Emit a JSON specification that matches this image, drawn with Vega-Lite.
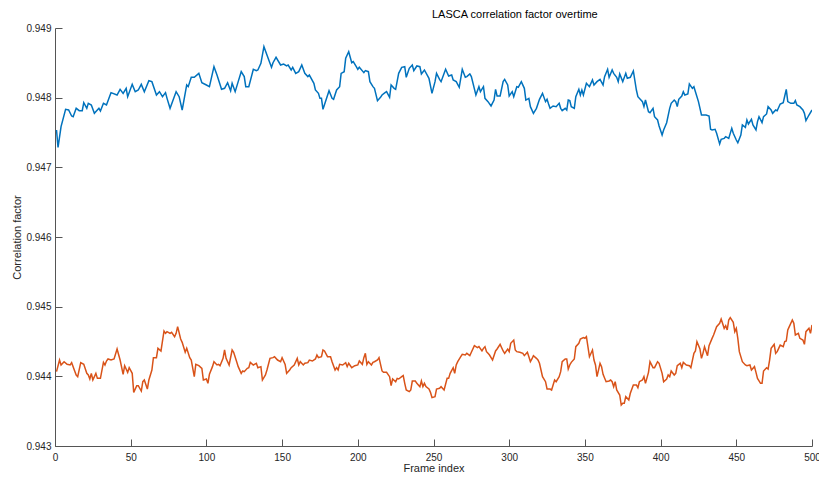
{
"$schema": "https://vega.github.io/schema/vega-lite/v6.json",
"width": 757, "height": 418,
"autosize": {"type": "none"},
"padding": {"left": 55, "top": 28, "right": 7, "bottom": 31},
"background": "white",
"title": {"text": "LASCA correlation factor overtime", "font": "Liberation Sans", "fontSize": 11, "fontWeight": "normal", "color": "#000000", "anchor": "start", "frame": "group", "dx": 377, "offset": 3},
"config": {
  "view": {"stroke": null},
  "axis": {"grid": false, "domainColor": "#555555", "domainWidth": 1, "tickColor": "#555555", "tickWidth": 1, "tickSize": -7, "labelFont": "Liberation Sans", "labelFontSize": 10, "labelColor": "#262626", "titleFont": "Liberation Sans", "titleFontSize": 11, "titleFontWeight": "normal", "titleColor": "#262626", "labelOverlap": false, "labelFlush": false}
},
"datasets": {
"blue": [
{"frame":1,"value":0.947536},{"frame":2,"value":0.947287},{"frame":4,"value":0.947584},{"frame":7,"value":0.947833},{"frame":9,"value":0.947823},{"frame":11,"value":0.947737},{"frame":12,"value":0.947727},{"frame":14,"value":0.947847},{"frame":16,"value":0.947813},{"frame":18,"value":0.947813},{"frame":19,"value":0.947928},{"frame":21,"value":0.947847},{"frame":22,"value":0.947919},{"frame":24,"value":0.947895},{"frame":26,"value":0.947775},{"frame":29,"value":0.947847},{"frame":30,"value":0.947809},{"frame":32,"value":0.947919},{"frame":34,"value":0.947895},{"frame":36,"value":0.948014},{"frame":37,"value":0.948072},{"frame":41,"value":0.948038},{"frame":43,"value":0.94812},{"frame":45,"value":0.948062},{"frame":47,"value":0.948134},{"frame":48,"value":0.948014},{"frame":51,"value":0.948191},{"frame":53,"value":0.948086},{"frame":55,"value":0.94811},{"frame":57,"value":0.948191},{"frame":59,"value":0.948086},{"frame":62,"value":0.948244},{"frame":64,"value":0.94823},{"frame":67,"value":0.948038},{"frame":69,"value":0.948086},{"frame":71,"value":0.948014},{"frame":73,"value":0.948072},{"frame":74,"value":0.94799},{"frame":76,"value":0.947847},{"frame":78,"value":0.947966},{"frame":80,"value":0.948086},{"frame":82,"value":0.948014},{"frame":84,"value":0.947823},{"frame":87,"value":0.948182},{"frame":88,"value":0.948158},{"frame":90,"value":0.948292},{"frame":92,"value":0.948292},{"frame":95,"value":0.948349},{"frame":97,"value":0.948215},{"frame":100,"value":0.948182},{"frame":102,"value":0.948158},{"frame":105,"value":0.948445},{"frame":107,"value":0.948325},{"frame":110,"value":0.94812},{"frame":112,"value":0.948134},{"frame":114,"value":0.948215},{"frame":116,"value":0.9481},{"frame":117,"value":0.948206},{"frame":119,"value":0.948086},{"frame":121,"value":0.94823},{"frame":123,"value":0.948373},{"frame":125,"value":0.948302},{"frame":126,"value":0.948158},{"frame":128,"value":0.948158},{"frame":131,"value":0.948407},{"frame":133,"value":0.948388},{"frame":134,"value":0.948397},{"frame":136,"value":0.948493},{"frame":138,"value":0.948732},{"frame":140,"value":0.948613},{"frame":142,"value":0.948493},{"frame":143,"value":0.948436},{"frame":144,"value":0.948502},{"frame":146,"value":0.948579},{"frame":149,"value":0.948469},{"frame":151,"value":0.948483},{"frame":153,"value":0.948455},{"frame":154,"value":0.948469},{"frame":156,"value":0.948397},{"frame":157,"value":0.948436},{"frame":159,"value":0.948349},{"frame":161,"value":0.948373},{"frame":163,"value":0.948469},{"frame":165,"value":0.948349},{"frame":167,"value":0.948302},{"frame":168,"value":0.948325},{"frame":171,"value":0.948206},{"frame":172,"value":0.94811},{"frame":174,"value":0.948062},{"frame":175,"value":0.94799},{"frame":176,"value":0.94799},{"frame":177,"value":0.947833},{"frame":179,"value":0.947966},{"frame":181,"value":0.9481},{"frame":183,"value":0.94799},{"frame":184,"value":0.947976},{"frame":186,"value":0.94811},{"frame":188,"value":0.948158},{"frame":189,"value":0.948349},{"frame":191,"value":0.948373},{"frame":192,"value":0.948565},{"frame":194,"value":0.94866},{"frame":196,"value":0.948502},{"frame":197,"value":0.948517},{"frame":199,"value":0.948445},{"frame":200,"value":0.948407},{"frame":201,"value":0.948436},{"frame":204,"value":0.948359},{"frame":205,"value":0.948388},{"frame":207,"value":0.948373},{"frame":208,"value":0.94823},{"frame":210,"value":0.948158},{"frame":211,"value":0.948134},{"frame":213,"value":0.947957},{"frame":215,"value":0.948005},{"frame":216,"value":0.948038},{"frame":218,"value":0.948072},{"frame":219,"value":0.948086},{"frame":221,"value":0.948005},{"frame":222,"value":0.948182},{"frame":224,"value":0.948134},{"frame":225,"value":0.94812},{"frame":227,"value":0.948349},{"frame":229,"value":0.948436},{"frame":231,"value":0.948445},{"frame":232,"value":0.948292},{"frame":234,"value":0.948421},{"frame":236,"value":0.948469},{"frame":237,"value":0.948388},{"frame":239,"value":0.948455},{"frame":241,"value":0.948445},{"frame":242,"value":0.94834},{"frame":244,"value":0.948397},{"frame":247,"value":0.948278},{"frame":249,"value":0.948062},{"frame":251,"value":0.94823},{"frame":252,"value":0.948349},{"frame":254,"value":0.948263},{"frame":255,"value":0.94823},{"frame":258,"value":0.948407},{"frame":260,"value":0.948311},{"frame":262,"value":0.948325},{"frame":263,"value":0.948254},{"frame":265,"value":0.94823},{"frame":267,"value":0.948149},{"frame":269,"value":0.948407},{"frame":271,"value":0.948292},{"frame":272,"value":0.948302},{"frame":274,"value":0.94834},{"frame":275,"value":0.948302},{"frame":278,"value":0.948038},{"frame":280,"value":0.948158},{"frame":281,"value":0.948086},{"frame":283,"value":0.948158},{"frame":284,"value":0.94799},{"frame":286,"value":0.947943},{"frame":288,"value":0.947881},{"frame":290,"value":0.947966},{"frame":291,"value":0.94812},{"frame":292,"value":0.948024},{"frame":294,"value":0.948024},{"frame":296,"value":0.94823},{"frame":297,"value":0.948263},{"frame":299,"value":0.948182},{"frame":300,"value":0.948024},{"frame":302,"value":0.948086},{"frame":303,"value":0.948014},{"frame":305,"value":0.948158},{"frame":306,"value":0.948149},{"frame":308,"value":0.94823},{"frame":310,"value":0.948134},{"frame":311,"value":0.947966},{"frame":313,"value":0.94799},{"frame":314,"value":0.947871},{"frame":316,"value":0.947775},{"frame":318,"value":0.947847},{"frame":320,"value":0.947976},{"frame":322,"value":0.948062},{"frame":324,"value":0.947943},{"frame":325,"value":0.947976},{"frame":326,"value":0.947909},{"frame":327,"value":0.947847},{"frame":329,"value":0.947881},{"frame":331,"value":0.947871},{"frame":333,"value":0.947919},{"frame":334,"value":0.947847},{"frame":335,"value":0.947813},{"frame":337,"value":0.947847},{"frame":338,"value":0.947823},{"frame":339,"value":0.947966},{"frame":340,"value":0.947957},{"frame":341,"value":0.947871},{"frame":343,"value":0.947847},{"frame":344,"value":0.948014},{"frame":346,"value":0.94812},{"frame":347,"value":0.948038},{"frame":348,"value":0.94811},{"frame":349,"value":0.948038},{"frame":351,"value":0.948206},{"frame":353,"value":0.948158},{"frame":355,"value":0.948254},{"frame":356,"value":0.948182},{"frame":358,"value":0.94823},{"frame":360,"value":0.948263},{"frame":362,"value":0.948182},{"frame":363,"value":0.948302},{"frame":365,"value":0.948407},{"frame":366,"value":0.948292},{"frame":368,"value":0.948397},{"frame":369,"value":0.948349},{"frame":371,"value":0.948292},{"frame":372,"value":0.94823},{"frame":373,"value":0.94834},{"frame":375,"value":0.94823},{"frame":377,"value":0.948349},{"frame":378,"value":0.948278},{"frame":380,"value":0.948292},{"frame":382,"value":0.948383},{"frame":384,"value":0.94811},{"frame":385,"value":0.948014},{"frame":387,"value":0.947966},{"frame":388,"value":0.947943},{"frame":389,"value":0.947871},{"frame":390,"value":0.947966},{"frame":392,"value":0.947799},{"frame":393,"value":0.947785},{"frame":395,"value":0.947847},{"frame":396,"value":0.947727},{"frame":398,"value":0.94768},{"frame":399,"value":0.947593},{"frame":401,"value":0.947464},{"frame":402,"value":0.947536},{"frame":404,"value":0.947641},{"frame":406,"value":0.947847},{"frame":407,"value":0.947919},{"frame":409,"value":0.947966},{"frame":410,"value":0.947943},{"frame":411,"value":0.947871},{"frame":412,"value":0.947976},{"frame":414,"value":0.948024},{"frame":415,"value":0.948086},{"frame":416,"value":0.948038},{"frame":418,"value":0.948053},{"frame":419,"value":0.948196},{"frame":421,"value":0.948134},{"frame":422,"value":0.948158},{"frame":423,"value":0.948086},{"frame":425,"value":0.947943},{"frame":427,"value":0.947751},{"frame":428,"value":0.947751},{"frame":430,"value":0.947751},{"frame":432,"value":0.947737},{"frame":433,"value":0.947546},{"frame":434,"value":0.947536},{"frame":436,"value":0.947546},{"frame":437,"value":0.947488},{"frame":439,"value":0.947335},{"frame":440,"value":0.947402},{"frame":442,"value":0.947416},{"frame":443,"value":0.94744},{"frame":445,"value":0.947416},{"frame":447,"value":0.94756},{"frame":448,"value":0.947488},{"frame":450,"value":0.947392},{"frame":451,"value":0.947354},{"frame":453,"value":0.947464},{"frame":454,"value":0.947608},{"frame":456,"value":0.947574},{"frame":457,"value":0.94768},{"frame":458,"value":0.947622},{"frame":460,"value":0.947689},{"frame":461,"value":0.947608},{"frame":463,"value":0.947536},{"frame":464,"value":0.947656},{"frame":465,"value":0.947727},{"frame":467,"value":0.947641},{"frame":468,"value":0.947727},{"frame":470,"value":0.947766},{"frame":471,"value":0.947871},{"frame":473,"value":0.947823},{"frame":474,"value":0.947775},{"frame":476,"value":0.947823},{"frame":477,"value":0.947813},{"frame":479,"value":0.947909},{"frame":481,"value":0.947928},{"frame":482,"value":0.948024},{"frame":483,"value":0.94812},{"frame":484,"value":0.947943},{"frame":486,"value":0.947919},{"frame":488,"value":0.947919},{"frame":489,"value":0.947957},{"frame":490,"value":0.947895},{"frame":492,"value":0.947871},{"frame":494,"value":0.947823},{"frame":495,"value":0.947775},{"frame":496,"value":0.94767},{"frame":498,"value":0.947751},{"frame":500,"value":0.947823}
],
"orange": [
{"frame":1,"value":0.944067},{"frame":3,"value":0.944234},{"frame":4,"value":0.944163},{"frame":6,"value":0.94421},{"frame":8,"value":0.944172},{"frame":10,"value":0.944163},{"frame":11,"value":0.944196},{"frame":13,"value":0.944077},{"frame":14,"value":0.944019},{"frame":15,"value":0.943995},{"frame":17,"value":0.944196},{"frame":19,"value":0.944172},{"frame":21,"value":0.944043},{"frame":22,"value":0.944019},{"frame":23,"value":0.943962},{"frame":24,"value":0.944043},{"frame":25,"value":0.943947},{"frame":27,"value":0.944043},{"frame":28,"value":0.943971},{"frame":30,"value":0.943971},{"frame":32,"value":0.944201},{"frame":33,"value":0.944163},{"frame":34,"value":0.94422},{"frame":35,"value":0.944249},{"frame":37,"value":0.944234},{"frame":39,"value":0.944249},{"frame":41,"value":0.944392},{"frame":43,"value":0.944234},{"frame":45,"value":0.944029},{"frame":46,"value":0.944153},{"frame":48,"value":0.944057},{"frame":49,"value":0.944124},{"frame":51,"value":0.944043},{"frame":52,"value":0.94377},{"frame":54,"value":0.943866},{"frame":55,"value":0.943866},{"frame":57,"value":0.943789},{"frame":58,"value":0.943923},{"frame":59,"value":0.943947},{"frame":61,"value":0.943818},{"frame":62,"value":0.943947},{"frame":64,"value":0.944091},{"frame":65,"value":0.944268},{"frame":67,"value":0.944268},{"frame":68,"value":0.944402},{"frame":70,"value":0.944364},{"frame":72,"value":0.944651},{"frame":73,"value":0.944617},{"frame":74,"value":0.944641},{"frame":76,"value":0.944617},{"frame":77,"value":0.944631},{"frame":79,"value":0.944569},{"frame":80,"value":0.944617},{"frame":81,"value":0.944713},{"frame":83,"value":0.944536},{"frame":84,"value":0.944488},{"frame":86,"value":0.944345},{"frame":87,"value":0.944402},{"frame":89,"value":0.944268},{"frame":90,"value":0.944234},{"frame":92,"value":0.943995},{"frame":93,"value":0.944172},{"frame":95,"value":0.944153},{"frame":97,"value":0.944115},{"frame":98,"value":0.943947},{"frame":100,"value":0.943962},{"frame":101,"value":0.943899},{"frame":102,"value":0.944029},{"frame":104,"value":0.944139},{"frame":105,"value":0.94421},{"frame":107,"value":0.944163},{"frame":108,"value":0.944172},{"frame":109,"value":0.944153},{"frame":111,"value":0.944258},{"frame":112,"value":0.944378},{"frame":113,"value":0.944258},{"frame":115,"value":0.944163},{"frame":117,"value":0.944378},{"frame":118,"value":0.944345},{"frame":120,"value":0.94421},{"frame":121,"value":0.944139},{"frame":123,"value":0.944043},{"frame":124,"value":0.944077},{"frame":125,"value":0.944067},{"frame":127,"value":0.944115},{"frame":128,"value":0.944124},{"frame":129,"value":0.944201},{"frame":131,"value":0.944163},{"frame":133,"value":0.944187},{"frame":134,"value":0.944124},{"frame":136,"value":0.944139},{"frame":137,"value":0.943947},{"frame":139,"value":0.944019},{"frame":140,"value":0.944091},{"frame":142,"value":0.944258},{"frame":144,"value":0.944268},{"frame":145,"value":0.944282},{"frame":147,"value":0.944234},{"frame":149,"value":0.94421},{"frame":150,"value":0.944268},{"frame":152,"value":0.944172},{"frame":153,"value":0.944043},{"frame":155,"value":0.944091},{"frame":156,"value":0.944124},{"frame":158,"value":0.944163},{"frame":160,"value":0.944258},{"frame":161,"value":0.944163},{"frame":162,"value":0.94421},{"frame":164,"value":0.944163},{"frame":165,"value":0.944187},{"frame":167,"value":0.944196},{"frame":168,"value":0.944234},{"frame":170,"value":0.94422},{"frame":172,"value":0.944249},{"frame":173,"value":0.944306},{"frame":174,"value":0.944268},{"frame":176,"value":0.944282},{"frame":177,"value":0.944378},{"frame":178,"value":0.944364},{"frame":180,"value":0.944282},{"frame":182,"value":0.944282},{"frame":183,"value":0.94421},{"frame":185,"value":0.944091},{"frame":186,"value":0.944124},{"frame":187,"value":0.944091},{"frame":188,"value":0.944172},{"frame":190,"value":0.944163},{"frame":192,"value":0.944196},{"frame":193,"value":0.944139},{"frame":194,"value":0.944187},{"frame":196,"value":0.944124},{"frame":198,"value":0.944153},{"frame":200,"value":0.944163},{"frame":201,"value":0.94422},{"frame":203,"value":0.944172},{"frame":204,"value":0.944268},{"frame":205,"value":0.94433},{"frame":206,"value":0.944172},{"frame":207,"value":0.94421},{"frame":209,"value":0.944163},{"frame":210,"value":0.944201},{"frame":211,"value":0.94421},{"frame":213,"value":0.944234},{"frame":214,"value":0.944268},{"frame":216,"value":0.944077},{"frame":217,"value":0.944057},{"frame":219,"value":0.944057},{"frame":221,"value":0.943995},{"frame":222,"value":0.943866},{"frame":223,"value":0.943962},{"frame":225,"value":0.943923},{"frame":226,"value":0.943971},{"frame":227,"value":0.943962},{"frame":229,"value":0.943995},{"frame":230,"value":0.94401},{"frame":231,"value":0.943899},{"frame":232,"value":0.943804},{"frame":234,"value":0.94378},{"frame":235,"value":0.943804},{"frame":236,"value":0.943933},{"frame":238,"value":0.943933},{"frame":239,"value":0.943899},{"frame":241,"value":0.943852},{"frame":242,"value":0.943933},{"frame":243,"value":0.943852},{"frame":244,"value":0.943899},{"frame":245,"value":0.943852},{"frame":247,"value":0.943818},{"frame":248,"value":0.94377},{"frame":249,"value":0.943694},{"frame":251,"value":0.943708},{"frame":252,"value":0.943818},{"frame":254,"value":0.943828},{"frame":255,"value":0.943852},{"frame":257,"value":0.943804},{"frame":259,"value":0.943971},{"frame":260,"value":0.943971},{"frame":261,"value":0.944043},{"frame":263,"value":0.944124},{"frame":264,"value":0.944043},{"frame":265,"value":0.944163},{"frame":266,"value":0.94421},{"frame":268,"value":0.944282},{"frame":269,"value":0.944316},{"frame":271,"value":0.944306},{"frame":272,"value":0.94433},{"frame":274,"value":0.944297},{"frame":275,"value":0.944345},{"frame":277,"value":0.94444},{"frame":279,"value":0.944411},{"frame":280,"value":0.944426},{"frame":282,"value":0.944364},{"frame":283,"value":0.944402},{"frame":284,"value":0.944426},{"frame":285,"value":0.944354},{"frame":286,"value":0.94433},{"frame":287,"value":0.944306},{"frame":289,"value":0.944234},{"frame":291,"value":0.944364},{"frame":292,"value":0.944392},{"frame":294,"value":0.944459},{"frame":296,"value":0.944364},{"frame":297,"value":0.94433},{"frame":299,"value":0.944392},{"frame":300,"value":0.944354},{"frame":301,"value":0.944474},{"frame":303,"value":0.944521},{"frame":304,"value":0.944378},{"frame":305,"value":0.944354},{"frame":307,"value":0.944345},{"frame":309,"value":0.94433},{"frame":310,"value":0.944297},{"frame":312,"value":0.944345},{"frame":313,"value":0.944282},{"frame":314,"value":0.94421},{"frame":315,"value":0.944249},{"frame":316,"value":0.944297},{"frame":318,"value":0.944258},{"frame":319,"value":0.944234},{"frame":320,"value":0.944187},{"frame":321,"value":0.944091},{"frame":322,"value":0.943995},{"frame":324,"value":0.943923},{"frame":325,"value":0.943818},{"frame":327,"value":0.943818},{"frame":328,"value":0.943804},{"frame":329,"value":0.943876},{"frame":330,"value":0.943947},{"frame":331,"value":0.943923},{"frame":333,"value":0.943995},{"frame":334,"value":0.944067},{"frame":335,"value":0.94421},{"frame":337,"value":0.944249},{"frame":338,"value":0.944249},{"frame":339,"value":0.944105},{"frame":340,"value":0.944163},{"frame":341,"value":0.944201},{"frame":343,"value":0.944249},{"frame":344,"value":0.944426},{"frame":346,"value":0.944474},{"frame":347,"value":0.944536},{"frame":349,"value":0.944555},{"frame":350,"value":0.944545},{"frame":351,"value":0.944569},{"frame":353,"value":0.944282},{"frame":355,"value":0.944378},{"frame":356,"value":0.944234},{"frame":357,"value":0.944163},{"frame":358,"value":0.943995},{"frame":360,"value":0.944187},{"frame":361,"value":0.944139},{"frame":362,"value":0.944029},{"frame":364,"value":0.943923},{"frame":366,"value":0.943933},{"frame":367,"value":0.943947},{"frame":368,"value":0.943923},{"frame":369,"value":0.943852},{"frame":370,"value":0.943923},{"frame":371,"value":0.943804},{"frame":373,"value":0.943732},{"frame":374,"value":0.943588},{"frame":375,"value":0.943612},{"frame":376,"value":0.943612},{"frame":377,"value":0.943708},{"frame":379,"value":0.94366},{"frame":380,"value":0.943756},{"frame":382,"value":0.943876},{"frame":384,"value":0.943876},{"frame":385,"value":0.943837},{"frame":386,"value":0.943923},{"frame":388,"value":0.943947},{"frame":389,"value":0.943995},{"frame":390,"value":0.943899},{"frame":392,"value":0.944057},{"frame":393,"value":0.94421},{"frame":395,"value":0.944124},{"frame":396,"value":0.944124},{"frame":398,"value":0.94421},{"frame":399,"value":0.944187},{"frame":401,"value":0.944043},{"frame":402,"value":0.943923},{"frame":404,"value":0.943962},{"frame":405,"value":0.944019},{"frame":406,"value":0.943995},{"frame":407,"value":0.944077},{"frame":409,"value":0.944019},{"frame":410,"value":0.944043},{"frame":411,"value":0.944153},{"frame":413,"value":0.944187},{"frame":414,"value":0.944124},{"frame":415,"value":0.944201},{"frame":417,"value":0.944163},{"frame":419,"value":0.944153},{"frame":420,"value":0.944124},{"frame":422,"value":0.94433},{"frame":423,"value":0.944364},{"frame":424,"value":0.944498},{"frame":426,"value":0.944392},{"frame":427,"value":0.944258},{"frame":428,"value":0.94433},{"frame":429,"value":0.944426},{"frame":431,"value":0.944297},{"frame":432,"value":0.94444},{"frame":434,"value":0.944545},{"frame":435,"value":0.944593},{"frame":437,"value":0.944713},{"frame":439,"value":0.944761},{"frame":440,"value":0.944823},{"frame":442,"value":0.944689},{"frame":443,"value":0.944727},{"frame":444,"value":0.944665},{"frame":445,"value":0.944809},{"frame":446,"value":0.944842},{"frame":448,"value":0.944775},{"frame":449,"value":0.944641},{"frame":450,"value":0.944689},{"frame":451,"value":0.944545},{"frame":452,"value":0.944354},{"frame":454,"value":0.94421},{"frame":456,"value":0.944163},{"frame":457,"value":0.944153},{"frame":459,"value":0.944163},{"frame":460,"value":0.944091},{"frame":462,"value":0.944139},{"frame":463,"value":0.944057},{"frame":464,"value":0.943971},{"frame":466,"value":0.943899},{"frame":467,"value":0.943899},{"frame":468,"value":0.944077},{"frame":470,"value":0.944124},{"frame":471,"value":0.944105},{"frame":472,"value":0.944234},{"frame":473,"value":0.944402},{"frame":475,"value":0.944459},{"frame":476,"value":0.94433},{"frame":477,"value":0.944354},{"frame":478,"value":0.944402},{"frame":479,"value":0.944449},{"frame":481,"value":0.944426},{"frame":482,"value":0.944498},{"frame":483,"value":0.944507},{"frame":484,"value":0.944665},{"frame":485,"value":0.944713},{"frame":487,"value":0.944809},{"frame":488,"value":0.944761},{"frame":489,"value":0.944593},{"frame":491,"value":0.944617},{"frame":492,"value":0.944545},{"frame":494,"value":0.944521},{"frame":495,"value":0.944459},{"frame":496,"value":0.944641},{"frame":498,"value":0.944689},{"frame":499,"value":0.944617},{"frame":500,"value":0.944737}
]
},
"layer": [
  {
    "data": {"name": "blue"},
    "mark": {"type": "line", "strokeWidth": 1.5, "color": "#0072BD", "clip": true},
    "encoding": {
      "x": {"field": "frame", "type": "quantitative", "scale": {"domain": [0, 500], "nice": false}, "axis": {"values": [0, 50, 100, 150, 200, 250, 300, 350, 400, 450, 500], "title": "Frame index", "labelPadding": 13, "titlePadding": 0}},
      "y": {"field": "value", "type": "quantitative", "scale": {"domain": [0.943, 0.949], "nice": false, "zero": false}, "axis": {"values": [0.943, 0.944, 0.945, 0.946, 0.947, 0.948, 0.949], "format": ".3f", "title": "Correlation factor", "labelPadding": 11, "titlePadding": 3}}
    }
  },
  {
    "data": {"name": "orange"},
    "mark": {"type": "line", "strokeWidth": 1.5, "color": "#D95319", "clip": true},
    "encoding": {
      "x": {"field": "frame", "type": "quantitative"},
      "y": {"field": "value", "type": "quantitative"}
    }
  }
]
}
